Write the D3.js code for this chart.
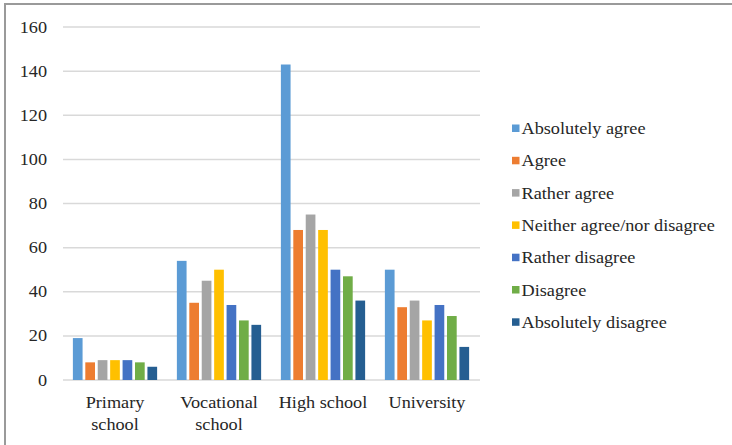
<!DOCTYPE html>
<html>
<head>
<meta charset="utf-8">
<script src="https://cdn.jsdelivr.net/npm/d3@7"></script>
<style>
  body { margin: 0; background: #fff; }
</style>
</head>
<body>
<div id="chart"></div>
<script>
// data
var categories = [["Primary", "school"], ["Vocational", "school"], ["High school"], ["University"]];
var series = ["Absolutely agree", "Agree", "Rather agree", "Neither agree/nor disagree",
              "Rather disagree", "Disagree", "Absolutely disagree"];
var colors = ["#5B9BD5", "#ED7D31", "#A5A5A5", "#FFC000", "#4472C4", "#70AD47", "#255E91"];
var primary    = [19, 8, 9, 9, 9, 8, 6];
var vocational = [54, 35, 45, 50, 34, 27, 25];
var highSchool = [143, 68, 75, 68, 50, 47, 36];
var university = [50, 33, 36, 27, 34, 29, 15];
var yTicks = [0, 20, 40, 60, 80, 100, 120, 140, 160];

(function() {
    var values = [primary, vocational, highSchool, university];
    var font = "Liberation Serif";
    var stretch = 1.14;   // text in the picture is a bit wider than normal

    var width = 732, height = 445;
    var mLeft = 63, mRight = 479, mTop = 27, mBottom = 380;

    var svg = d3.select("#chart").append("svg")
        .attr("width", width).attr("height", height);

    function place(x, y) { return "translate(" + x + "," + y + ") scale(" + stretch + ",1)"; }

    // frame (only top and left edges are visible)
    svg.append("line").attr("x1", 4).attr("x2", width).attr("y1", 4).attr("y2", 4)
        .attr("stroke", "#9a9a9a").attr("stroke-width", 2);
    svg.append("line").attr("x1", 5).attr("x2", 5).attr("y1", 3).attr("y2", height)
        .attr("stroke", "#9a9a9a").attr("stroke-width", 2);

    var x0 = d3.scaleBand().domain(d3.range(categories.length))
        .range([mLeft, mRight]).paddingInner(0.19).paddingOuter(0.095);
    var x1 = d3.scaleBand().domain(d3.range(series.length))
        .range([0, x0.bandwidth()]).paddingInner(0.22);
    var y = d3.scaleLinear().domain([0, 160]).range([mBottom, mTop]);

    // grid lines
    svg.append("g").selectAll("line").data(yTicks).enter()
        .append("line")
        .attr("x1", mLeft).attr("x2", mRight + 1)
        .attr("y1", function(d) { return y(d); })
        .attr("y2", function(d) { return y(d); })
        .attr("stroke", "#d9d9d9").attr("stroke-width", 1.5);

    // y labels
    svg.append("g").selectAll("text").data(yTicks).enter()
        .append("text")
        .attr("transform", function(d) { return place(47, y(d)); })
        .attr("dy", "0.35em")
        .attr("text-anchor", "end")
        .attr("font-family", font)
        .attr("font-size", 16)
        .attr("fill", "#262626")
        .text(function(d) { return d; });

    // bars
    var groups = svg.append("g").selectAll("g").data(values).enter()
        .append("g")
        .attr("transform", function(d, i) { return "translate(" + x0(i) + ",0)"; });

    groups.selectAll("rect").data(function(d) { return d; }).enter()
        .append("rect")
        .attr("x", function(d, i) { return x1(i); })
        .attr("y", function(d) { return y(d); })
        .attr("width", x1.bandwidth())
        .attr("height", function(d) { return y(0) - y(d); })
        .attr("fill", function(d, i) { return colors[i]; });

    // x labels
    var xl = svg.append("g").selectAll("text").data(categories).enter()
        .append("text")
        .attr("transform", function(d, i) { return place(x0(i) + x0.bandwidth() / 2, 408); })
        .attr("text-anchor", "middle")
        .attr("font-family", font)
        .attr("font-size", 16)
        .attr("fill", "#262626");
    xl.selectAll("tspan").data(function(d) { return d; }).enter()
        .append("tspan")
        .attr("x", 0)
        .attr("dy", function(d, i) { return i ? 22 : 0; })
        .text(function(d) { return d; });

    // legend
    var lg = svg.append("g").selectAll("g").data(series).enter()
        .append("g")
        .attr("transform", function(d, i) { return "translate(512," + (128.5 + i * 32.3) + ")"; });
    lg.append("rect").attr("x", 0).attr("y", -4).attr("width", 7.5).attr("height", 7.5)
        .attr("fill", function(d, i) { return colors[i]; });
    lg.append("text").attr("transform", place(9.5, 0)).attr("dy", "0.35em")
        .attr("font-family", font)
        .attr("font-size", 16)
        .attr("fill", "#262626")
        .text(function(d) { return d; });
})();
</script>
</body>
</html>
